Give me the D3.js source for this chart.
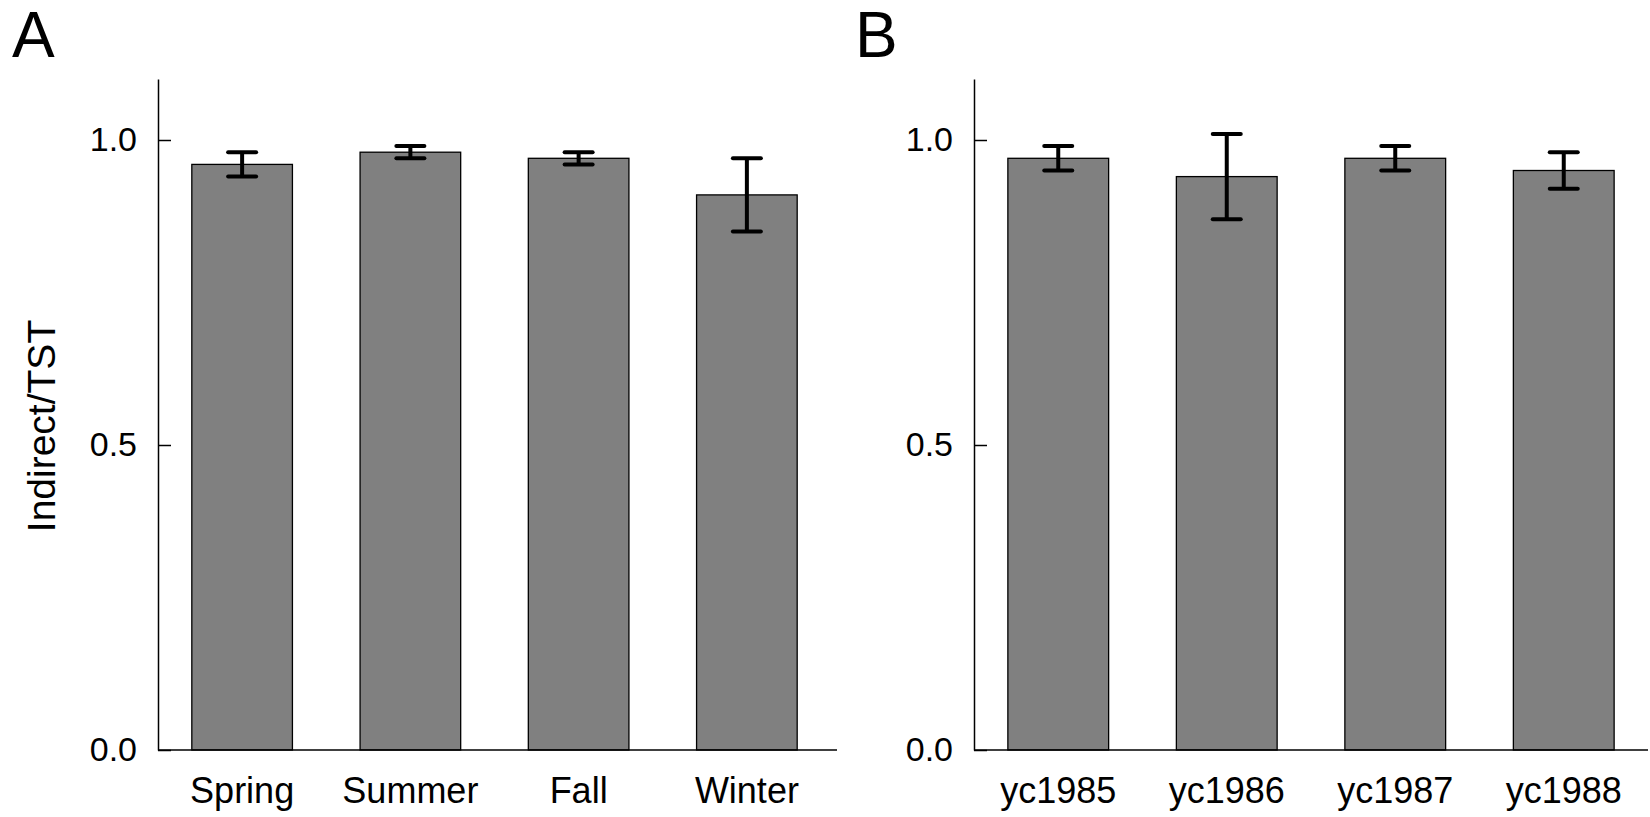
<!DOCTYPE html>
<html>
<head>
<meta charset="utf-8">
<script src="https://cdn.jsdelivr.net/npm/d3@7"></script>
<style>
  body { margin: 0; background: #fff; }
  svg { font-family: "Liberation Sans", Arial, sans-serif; }
</style>
</head>
<body>
<script>
// panel A - seasons
var seasons = ["Spring", "Summer", "Fall", "Winter"];
var seasonMeans = [0.96, 0.98, 0.97, 0.91];
var seasonErr = [0.02, 0.01, 0.01, 0.06];

// panel B - year classes
var years = ["yc1985", "yc1986", "yc1987", "yc1988"];
var yearMeans = [0.97, 0.94, 0.97, 0.95];
var yearErr = [0.02, 0.07, 0.02, 0.03];

var yTicks = [0.0, 0.5, 1.0];

var width = 1650, height = 817;
var plotTop = 79, plotBottom = 750;

const svg = d3.select("body")
    .append("svg")
    .attr("width", width)
    .attr("height", height);

var yscale = d3.scaleLinear()
    .domain([0, 1.1])
    .range([plotBottom, plotTop]);

function drawPanel(cats, means, errs, left, bandEnd, axisEnd, letter, letterX) {
    var xscale = d3.scaleBand()
        .domain(cats)
        .range([left, bandEnd])
        .paddingInner(0.402)
        .paddingOuter(0.201);

    var data = cats.map((c, i) => ({cat: c, v: means[i], e: errs[i]}));

    // bars
    svg.append("g").selectAll("rect")
        .data(data)
        .join("rect")
        .attr("x", d => xscale(d.cat))
        .attr("y", d => yscale(d.v))
        .attr("width", xscale.bandwidth())
        .attr("height", d => yscale(0) - yscale(d.v))
        .attr("fill", "#808080")
        .attr("stroke", "#000")
        .attr("stroke-width", 1.3);

    // error bars
    var eb = svg.append("g")
        .attr("stroke", "#000")
        .attr("stroke-width", 4)
        .attr("stroke-linecap", "round");
    var cap = 14;
    data.forEach(d => {
        var cx = xscale(d.cat) + xscale.bandwidth() / 2;
        eb.append("line")
            .attr("x1", cx).attr("x2", cx)
            .attr("y1", yscale(d.v + d.e)).attr("y2", yscale(d.v - d.e))
            .attr("stroke-linecap", "butt");
        [d.v + d.e, d.v - d.e].forEach(y => {
            eb.append("line")
                .attr("x1", cx - cap).attr("x2", cx + cap)
                .attr("y1", yscale(y)).attr("y2", yscale(y));
        });
    });

    // y-axis
    svg.append("g")
        .attr("transform", `translate(${left},0)`)
        .call(d3.axisLeft(yscale).tickValues(yTicks).tickFormat(d3.format(".1f"))
            .tickSize(-13).tickSizeOuter(0).tickPadding(21))
        .call(g => g.selectAll("path, line").attr("stroke-width", 1.5))
        .call(g => g.selectAll("text").attr("font-size", 34).attr("fill", "#000"));

    // x-axis
    svg.append("g")
        .attr("transform", `translate(0,${plotBottom})`)
        .call(d3.axisBottom(xscale).tickSize(0).tickSizeOuter(0).tickPadding(27))
        .call(g => g.select(".domain").remove())
        .call(g => g.selectAll("text").attr("font-size", 36).attr("fill", "#000"));
    svg.append("line")
        .attr("x1", left).attr("x2", axisEnd)
        .attr("y1", plotBottom).attr("y2", plotBottom)
        .attr("stroke", "#000")
        .attr("stroke-width", 1.5);

    svg.append("text")
        .attr("x", letterX)
        .attr("y", 57)
        .attr("font-size", 64)
        .text(letter);
}

drawPanel(seasons, seasonMeans, seasonErr, 158, 831, 837, "A", 12);
drawPanel(years, yearMeans, yearErr, 974, 1648, 1648, "B", 855);

// y label
svg.append("text")
    .attr("transform", "translate(55,426) rotate(-90)")
    .attr("text-anchor", "middle")
    .attr("font-size", 39)
    .text("Indirect/TST");
</script>
</body>
</html>
